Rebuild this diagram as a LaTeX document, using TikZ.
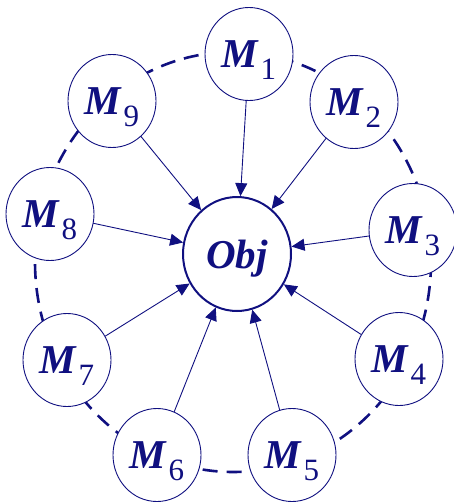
\documentclass[tikz,border=0pt]{standalone}
\usepackage{fontspec}
\setmainfont{Liberation Serif}
\usetikzlibrary{arrows.meta,shapes.geometric}
\definecolor{navy}{RGB}{16,16,128}
\newcommand{\Mlab}[1]{\textbf{\textit{M}}\kern1pt\raisebox{-12pt}{\fontsize{31}{31}\selectfont #1}}
\begin{document}
\begin{tikzpicture}[x=1pt, y=-1pt, line cap=round, line join=round, >={Triangle[length=13pt,width=12pt]}, font=\fontsize{41}{41}\selectfont,
	mod/.style={ellipse, draw=navy, fill=white, line width=0.9pt, minimum width=88pt, minimum height=93pt, inner sep=0pt, text=navy, text depth=0pt},
	target/.style={ellipse, draw=navy, fill=white, line width=2pt, minimum width=108pt, minimum height=114pt, inner sep=0pt, text=navy, text depth=0pt},
	ring/.style={draw=navy, line width=2.6pt, line cap=butt, dash pattern=on 15pt off 9pt}]
	\useasboundingbox (0,0) rectangle (453,503);
	\coordinate (c) at (233,262);
	\draw[ring] (c) ellipse [x radius=198, y radius=210];
	\node[target] (obj) at (237,254) {\textbf{\textit{Obj}}};
	\foreach \n/\x/\y in {1/249/54, 2/354/102, 3/413/230, 4/399/359, 5/292/455, 6/157/455, 7/67/360, 8/50/214, 9/112/101} {
		\node[mod] (m\n) at (\x,\y) {\Mlab{\n}};
		\draw[->, navy, line width=0.9pt] (m\n) -- (obj);
	}
\end{tikzpicture}
\end{document}
